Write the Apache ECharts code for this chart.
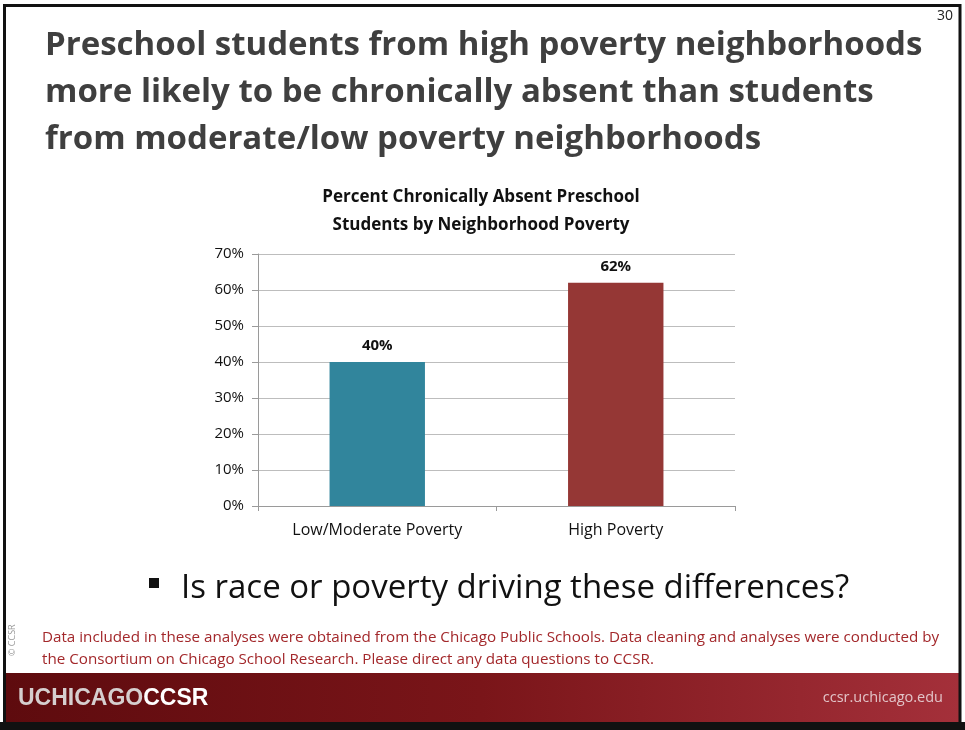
<!DOCTYPE html>
<html>
<head>
<meta charset="utf-8">
<style>
  html, body { margin: 0; padding: 0; background: #ffffff; }
  #chart { width: 965px; height: 730px; }
</style>
<script src="https://cdn.jsdelivr.net/npm/echarts@6/dist/echarts.min.js"></script>
</head>
<body>
<div id="chart"></div>
<script>
// Chart data
var categories = ['Low/Moderate Poverty', 'High Poverty'];
var absentPct = [40, 62];
var barColors = ['#31859c', '#953735'];
var yTicks = [0, 10, 20, 30, 40, 50, 60, 70];

var slideTitle = [
  'Preschool students from high poverty neighborhoods',
  'more likely to be chronically absent than students',
  'from moderate/low poverty neighborhoods'
];
var chartTitle = 'Percent Chronically Absent Preschool\nStudents by Neighborhood Poverty';
var bulletText = 'Is race or poverty driving these differences?';
var noteLines = [
  'Data included in these analyses were obtained from the Chicago Public Schools. Data cleaning and analyses were conducted by',
  'the Consortium on Chicago School Research. Please direct any data questions to CCSR.'
];

var FONT = 'Open Sans, Noto Sans, sans-serif';

var chart = echarts.init(document.getElementById('chart'), null, { renderer: 'canvas' });

function block(x, y, w, h, color, z) {
  return { type: 'rect', shape: { x: x, y: y, width: w, height: h },
    style: { fill: color }, z: z, silent: true };
}

var graphics = [
  // footer band
  { type: 'rect', shape: { x: 5, y: 673, width: 954, height: 49 },
    style: { fill: new echarts.graphic.LinearGradient(0, 0, 1, 0, [
      { offset: 0, color: '#5e0b0e' },
      { offset: 0.5, color: '#7a1519' },
      { offset: 1, color: '#a4303a' }
    ]) }, z: 1, silent: true },
  // slide frame
  { type: 'rect', shape: { x: 4.5, y: 5.5, width: 955.5, height: 718 },
    style: { fill: null, stroke: '#111111', lineWidth: 3 }, z: 100, silent: true },
  block(0, 722, 965, 8, '#111111', 100),
  { type: 'text', left: 937, top: 9, z: 60, style: { text: '30', font: '14px ' + FONT, fill: '#222222' } },
  { type: 'text', left: 18, top: 687, z: 60, style: {
      text: '{a|UCHICAGO}{b|CCSR}',
      rich: {
        a: { font: 'bold 23px Liberation Sans, Arial, sans-serif', fill: '#d6cfcf' },
        b: { font: 'bold 23px Liberation Sans, Arial, sans-serif', fill: '#ffffff' }
      } } },
  { type: 'text', right: 22, top: 690, z: 60, style: {
      text: 'ccsr.uchicago.edu', font: '14.5px ' + FONT, fill: '#e2c4c8' } },
  // copyright, vertical
  { type: 'text', x: 12, y: 656, rotation: Math.PI / 2, z: 60,
    style: { text: '© CCSR', font: '9px ' + FONT, fill: '#9a9a9a', align: 'left', verticalAlign: 'middle' } },
  // bullet
  { type: 'rect', shape: { x: 149, y: 578, width: 10, height: 10 }, style: { fill: '#111111' }, z: 60 },
  { type: 'text', left: 181, top: 572, z: 60, style: { text: bulletText, font: '33px ' + FONT, fill: '#111111' } }
];

slideTitle.forEach(function (line, i) {
  graphics.push({ type: 'text', left: 45, top: 29 + i * 47, z: 60,
    style: { text: line, font: 'bold 33px ' + FONT, fill: '#3f3f3f' } });
});
noteLines.forEach(function (line, i) {
  graphics.push({ type: 'text', left: 42, top: 630 + i * 22, z: 60,
    style: { text: line, font: '15.2px ' + FONT, fill: '#a3282b' } });
});

var option = {
  backgroundColor: '#ffffff',
  animation: false,
  title: {
    text: chartTitle,
    left: 476, top: 178, textAlign: 'center',
    textStyle: { fontFamily: FONT, fontSize: 17, fontWeight: 'bold', color: '#111111', lineHeight: 28 }
  },
  grid: { left: 258, right: 230, top: 254, bottom: 224 },
  xAxis: {
    type: 'category',
    data: categories,
    axisLine: { lineStyle: { color: '#9a9a9a', width: 1 } },
    axisTick: { show: true, length: 5, lineStyle: { color: '#9a9a9a' } },
    axisLabel: { fontFamily: FONT, fontSize: 16, color: '#111111', margin: 16 }
  },
  yAxis: {
    type: 'value',
    min: 0, max: 70, interval: 10,
    axisLine: { show: true, lineStyle: { color: '#9a9a9a' } },
    axisTick: { show: true, length: 6, lineStyle: { color: '#9a9a9a' } },
    splitLine: { lineStyle: { color: '#bdbdbd', width: 1 } },
    axisLabel: { fontFamily: FONT, fontSize: 15, color: '#111111', margin: 14,
      formatter: function (v) { return v + '%'; } }
  },
  series: [{
    type: 'bar',
    barWidth: '40%',
    data: absentPct.map(function (v, i) { return { value: v, itemStyle: { color: barColors[i] } }; }),
    label: {
      show: true, position: 'top', distance: 9,
      fontFamily: FONT, fontSize: 15, fontWeight: 'bold', color: '#111111',
      formatter: function (p) { return p.value + '%'; }
    }
  }],
  graphic: graphics
};

chart.setOption(option);
</script>
</body>
</html>
